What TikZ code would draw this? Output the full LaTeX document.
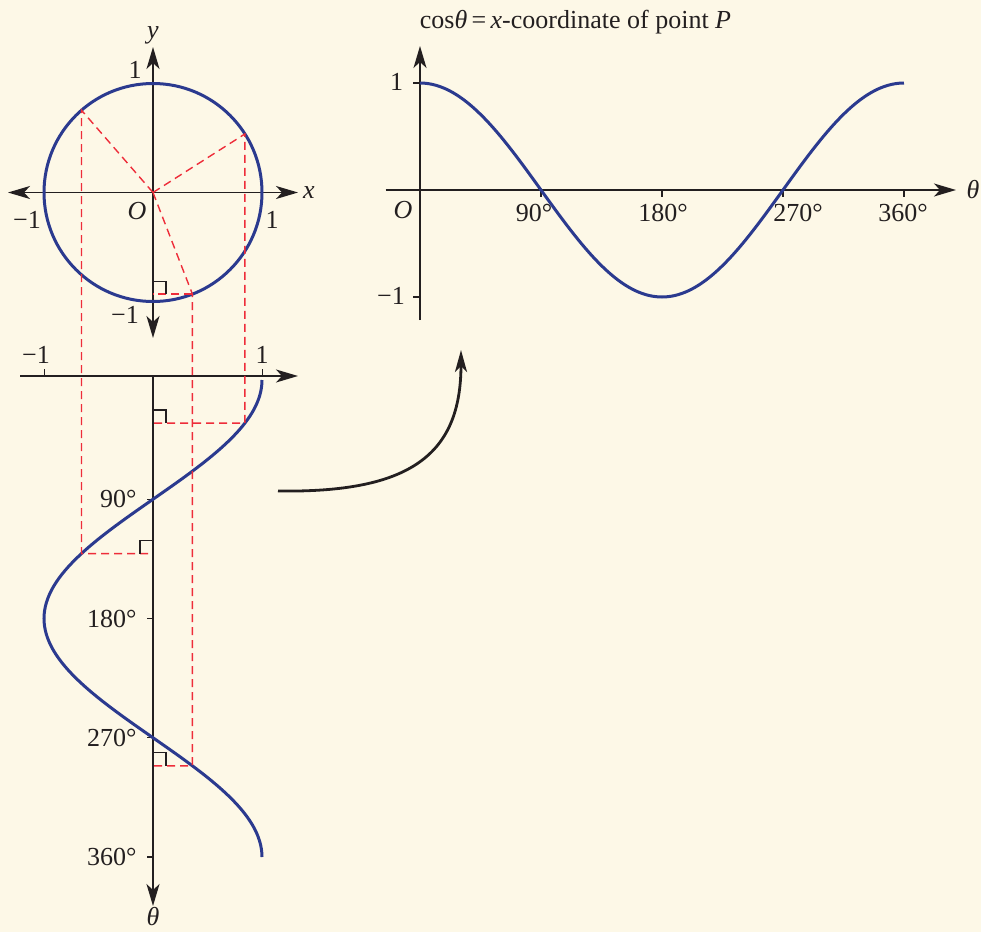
\documentclass[tikz,border=0pt]{standalone}
\usepackage{fontspec}
\setmainfont{Liberation Serif}
\usetikzlibrary{arrows.meta,positioning,calc}

\definecolor{paper}{HTML}{FDF8E7}
\definecolor{curveblue}{HTML}{2B3A8F}
\definecolor{guidered}{HTML}{EE2D3A}
\definecolor{ink}{HTML}{231F20}

\begin{document}
\begin{tikzpicture}[
  x=0.5pt, y=0.5pt,
  axis/.style={draw=ink, line width=0.75pt},
  tick/.style={draw=ink, line width=0.6pt},
  curve/.style={draw=curveblue, line width=1.5pt},
  guide/.style={draw=guidered, line width=0.7pt, dash pattern=on 4pt off 2.5pt},
  link/.style={draw=ink, line width=1.4pt},
  lab/.style={font=\fontsize{13}{15}\selectfont, text=ink, inner sep=1pt},
  >={Stealth[length=11pt,width=6.5pt,inset=3pt]}, node distance=2pt
]
\useasboundingbox (0,0) rectangle (981,-932);
\fill[paper] (0,0) rectangle (981,-932);

% unit circle
\coordinate (O)  at (153,-192.5);
\coordinate (xw) at (8,-192.5);
\coordinate (xe) at (298,-192.5);
\coordinate (yn) at (153,-47);
\coordinate (ys) at (153,-338);
\draw[axis,<->] (xw) -- (xe);
\draw[axis,<->] (ys) -- (yn);
\draw[curve] (O) circle[radius=54.5pt];

\node[lab] (ylab)  at (153,-35)  {\textit{y}};
\node[lab] (yone)  at (135,-70)  {1};
\node[lab] (xlab)  at (309,-193) {\textit{x}};
\node[lab] (xmone) at (27,-220)  {−1};
\node[lab] (xone)  at (272,-220) {1};
\node[lab] (olab)  at (137,-211) {\textit{O}};
\node[lab] (ymone) at (125,-315) {−1};

% theta down the page
\coordinate (bo) at (153,-376);
\coordinate (bw) at (20,-376);
\coordinate (be) at (298,-376);
\coordinate (bs) at (153,-906);
\draw[axis,->] (bw) -- (be);
\draw[axis,->] (bo) -- (bs);
\draw[tick] (44.3,-376) -- (44.3,-369);
\draw[tick] (262.3,-376) -- (262.3,-369);
\node[lab] (bmone) at (36,-355)  {−1};
\node[lab] (bone)  at (262,-355) {1};
\node[lab] (blab)  at (153,-917) {\textit{θ}};
\foreach \d in {90,180,270,360}{
  \coordinate (bt\d) at (153,{-380-1.325*\d});
  \draw[tick] (bt\d) -- ++(-6.5,0);
  \node[lab, left=7pt of bt\d] {\d°};
}
\draw[curve] plot[domain=0:360, samples=121, smooth] ({153+109*cos(\x)},{-380-1.325*\x});

% projections
\foreach \n/\a in {1/32.5,2/131,3/291.2}{
  \coordinate (P\n) at ($(O)+(\a:109)$);
  \coordinate (Q\n) at ({153+109*cos(\a)},{-380-1.325*\a});
  \coordinate (A\n) at (153,{-380-1.325*\a});
  \draw[guide] (O) -- (P\n) -- (Q\n) -- (A\n);
}
\coordinate (B3) at (O |- P3);
\draw[guide] (P3) -- (B3);
\draw[tick] ($(B3)+(0,13)$) -- ++(13,0) -- ++(0,-13);
\draw[tick] ($(A1)+(0,13)$) -- ++(13,0) -- ++(0,-13);
\draw[tick] ($(A2)+(0,13)$) -- ++(-13,0) -- ++(0,-13);
\draw[tick] ($(A3)+(0,13)$) -- ++(13,0) -- ++(0,-13);

% cos graph
\coordinate (ro) at (420,-190);
\coordinate (rn) at (420,-46);
\coordinate (rs) at (420,-320);
\coordinate (rw) at (385.6,-190);
\coordinate (re) at (956,-190);
\draw[axis,->] (rs) -- (rn);
\draw[axis,->] (rw) -- (re);
\draw[tick] (413,-83) -- (420,-83);
\draw[tick] (413,-297) -- (420,-297);
\foreach \d in {90,180,270,360}
  \draw[tick] ({420+1.3444*\d},-190) -- ++(0,-7);
\node[lab] (rone)  at (396.5,-82) {1};
\node[lab] (rmone) at (391,-296)  {−1};
\node[lab] (rolab) at (403,-210)  {\textit{O}};
\node[lab] (rtlab) at (973,-190)  {\textit{θ}};
\node[lab] (r90)   at (534,-213)  {90°};
\node[lab] (r180)  at (663,-213)  {180°};
\node[lab] (r270)  at (798,-213)  {270°};
\node[lab] (r360)  at (903,-213)  {360°};
\draw[curve] plot[domain=0:360, samples=121, smooth] ({420+1.3444*\x},{-190+107*cos(\x)});
\node[lab] (title) at (575.5,-22) {cos\textit{θ}\,=\,\textit{x}-coordinate of point \textit{P}};

% from one graph to the other
\coordinate (ca) at (278,-491);
\coordinate (cb) at (461,-350);
\draw[link,-{Stealth[length=11pt,width=6pt,inset=3pt]}] (ca) .. controls (410,-493) and (461,-455) .. (cb);
\end{tikzpicture}
\end{document}
